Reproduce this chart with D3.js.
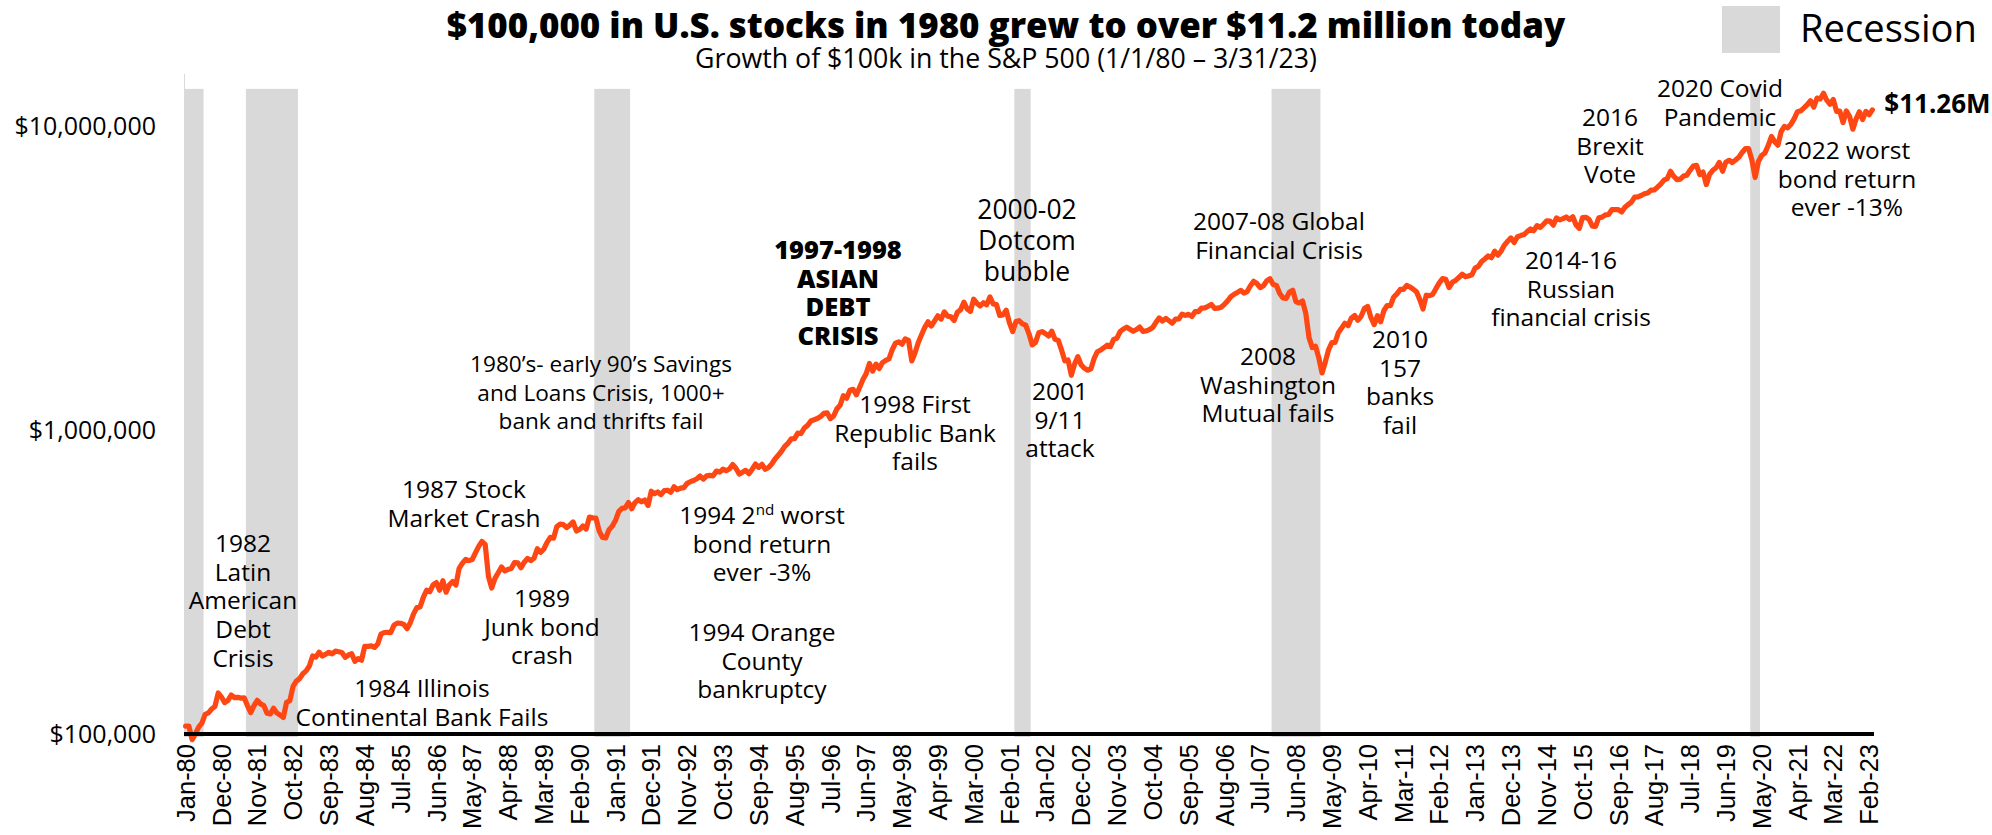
<!DOCTYPE html>
<html><head><meta charset="utf-8">
<script src="https://cdn.jsdelivr.net/npm/d3@7"></script>
<style>body{margin:0;background:#fff;} svg{display:block;}</style>
</head><body>
<svg id="chart" width="1992" height="835"></svg>
<script>
// ---------- DATA ----------
const firstMonth = new Date(1980, 0, 1);
const lastMonthExclusive = new Date(2023, 3, 1);
const categories = d3.timeMonth.range(firstMonth, lastMonthExclusive).map(d3.timeFormat("%b-%y"));

// Growth of $100k in the S&P 500, month-end values (USD)
const portfolioValue = [
106200,106200,95800,100200,105300,108600,116100,117300,120800,123200,136400,132300,
126800,129000,134300,131700,132000,131200,131500,123800,117600,123900,129000,125600,
124000,117000,116400,121600,117300,115500,113300,127000,128600,143400,149200,152100,
157800,161300,167300,180500,178900,185800,180400,183000,185600,183400,187200,186300,
185200,178700,181800,183500,173300,177000,174700,194000,194100,194800,192500,197600,
213000,215600,215700,215500,227900,231500,231200,229200,222000,232300,248200,260300,
261700,281200,296900,293600,309200,314500,296900,318900,292500,309400,316900,308800,
350400,364300,374900,371500,374700,393700,413700,429300,419900,329400,302000,324800,
339000,354200,343400,347700,349800,366100,365100,352100,367100,377800,371700,378300,
406300,395700,405100,426500,442800,440500,480700,489600,487700,476700,485900,497700,
464900,470300,483100,471500,516400,513300,512100,465200,442700,441000,468800,481800,
503100,538400,551800,553500,576400,550200,576400,589200,579500,587900,563500,628000,
617000,624400,612200,630800,632900,623400,649500,635500,642800,645600,666700,675100,
681500,690200,704700,688500,705700,707900,705700,731700,726000,741800,733900,743000,
768900,747500,715000,724900,735600,717500,741800,771500,752400,769900,741200,752000,
771900,801400,825000,849800,882500,903200,933700,935400,974900,972000,1013900,1033700,
1069300,1078600,1089000,1105500,1132800,1137300,1087200,1109600,1171700,1204400,1295000,1269200,
1349000,1358900,1302900,1380900,1463800,1529600,1651400,1558700,1643900,1589400,1662600,1691100,
1710300,1833000,1926700,1946500,1912100,1989800,1968900,1683900,1791000,1937000,2053900,2172200,
2263500,2192600,2280000,2368900,2311900,2440300,2364500,2351900,2287100,2432600,2481300,2627500,
2495900,2448100,2687300,2606900,2552100,2615500,2575200,2733900,2590200,2579600,2375200,2387100,
2472500,2246600,2104700,2268800,2282800,2228200,2206500,2067300,1900300,1936900,2084800,2102700,
2072700,2032400,2109800,1982900,1967500,1827400,1685200,1695600,1511100,1643900,1740000,1637100,
1594400,1569600,1584900,1715700,1805700,1828700,1861000,1896900,1876800,1982800,1999700,2104200,
2143600,2172900,2140200,2107300,2135800,2177300,2105600,2113300,2136100,2169100,2256000,2332500,
2276900,2323400,2282400,2239800,2310300,2313400,2400200,2376800,2396900,2357900,2444500,2445700,
2511600,2516600,2548200,2583200,2507000,2510900,2527500,2585100,2652500,2740200,2789400,2828800,
2872900,2814300,2846700,2974400,3075800,3025500,2932900,2975100,3086200,3136600,3002900,2981400,
2805100,2713400,2703100,2837700,2874100,2632700,2612300,2649800,2414400,2009600,1863100,1881600,
1723800,1537200,1671700,1832200,1933100,1937200,2084800,2158800,2240100,2199900,2330500,2376400,
2292200,2361200,2504000,2545000,2340100,2217400,2373600,2264600,2466700,2561500,2559700,2731100,
2797800,2892300,2894300,2981900,2946800,2898000,2840700,2684000,2495700,2769300,2760000,2788300,
2915300,3039000,3140000,3122200,2931900,3053400,3097600,3164400,3247000,3188500,3203300,3231800,
3400400,3443800,3573500,3644200,3726100,3676300,3864400,3749600,3867600,4046700,4166900,4272100,
4126700,4311300,4348100,4381900,4481100,4573800,4511800,4689100,4623400,4738200,4862100,4849100,
4706800,4973800,4895900,4946200,5006700,4909900,5015600,4710000,4593300,4983000,4994000,4915100,
4673800,4662700,4979000,5001100,5086600,5100000,5291000,5293600,5296200,5202300,5389300,5496800,
5604000,5821600,5828600,5890700,5968200,6006400,6132300,6145200,6273700,6422900,6613400,6688800,
7076500,6812000,6640000,6669100,6824600,6868800,7128000,7355900,7399500,6897300,7032100,6397200,
6911400,7128300,7267400,7564900,7078600,7578300,7689700,7562600,7704300,7874300,8154900,8401000,
8399300,7703700,6749400,7616000,7972100,8130200,8590300,9205100,8856500,8623300,9564000,9933200,
9833000,10100300,10540500,11105200,11177900,11438700,11711300,12063800,11502400,12310600,12221300,12768100,
12114000,11750600,12188000,11131900,11148100,10227000,11174500,10715300,9728200,10519700,11100900,10460600,
11127900,10858000,11260000
];

const tickLabels = ["Jan-80","Dec-80","Nov-81","Oct-82","Sep-83","Aug-84","Jul-85","Jun-86","May-87","Apr-88",
"Mar-89","Feb-90","Jan-91","Dec-91","Nov-92","Oct-93","Sep-94","Aug-95","Jul-96","Jun-97","May-98","Apr-99",
"Mar-00","Feb-01","Jan-02","Dec-02","Nov-03","Oct-04","Sep-05","Aug-06","Jul-07","Jun-08","May-09","Apr-10",
"Mar-11","Feb-12","Jan-13","Dec-13","Nov-14","Oct-15","Sep-16","Aug-17","Jul-18","Jun-19","May-20","Apr-21",
"Mar-22","Feb-23"];

const yTickValues = [100000, 1000000, 10000000];
const yMin = 100000, yMax = 15000000;

const recessionStart = ["Jan-80","Aug-81","Jul-90","Apr-01","Nov-07","Feb-20"];
const recessionEnd   = ["Jun-80","Nov-82","May-91","Aug-01","Jan-09","Apr-20"];
const recessionTop = 13200000;

const finalLabel = "$11.26M";
const titleText = "$100,000 in U.S. stocks in 1980 grew to over $11.2 million today";
const subtitleText = "Growth of $100k in the S&P 500 (1/1/80 \u2013 3/31/23)";
const legendText = "Recession";

// annotation texts
const annotationTexts = [
  ["1982","Latin","American","Debt","Crisis"],
  ["1984 Illinois","Continental Bank Fails"],
  ["1987 Stock","Market Crash"],
  ["1989","Junk bond","crash"],
  ["1980\u2019s- early 90\u2019s Savings","and Loans Crisis, 1000+","bank and thrifts fail"],
  ["1994 2|nd| worst","bond return","ever -3%"],
  ["1994 Orange","County","bankruptcy"],
  ["1997-1998","ASIAN","DEBT","CRISIS"],
  ["1998 First","Republic Bank","fails"],
  ["2000-02","Dotcom","bubble"],
  ["2001","9/11","attack"],
  ["2007-08 Global","Financial Crisis"],
  ["2008","Washington","Mutual fails"],
  ["2010","157","banks","fail"],
  ["2014-16","Russian","financial crisis"],
  ["2016","Brexit","Vote"],
  ["2020 Covid","Pandemic"],
  ["2022 worst","bond return","ever -13%"]
];
// ---------- LAYOUT (pixels) ----------
const annotationLayout = [
  {x:243, y:552}, {x:422, y:697}, {x:464, y:498}, {x:542, y:607},
  {x:601, y:372, size:22.6, lh:28.5}, {x:762, y:524}, {x:762, y:641}, {x:838, y:259, bold:true, size:25.5},
  {x:915, y:413}, {x:1027, y:219, size:26.5, lh:31}, {x:1060, y:400},
  {x:1279, y:230}, {x:1268, y:365}, {x:1400, y:348}, {x:1571, y:269},
  {x:1610, y:126}, {x:1720, y:97}, {x:1847, y:159}
];

const W = 1992, H = 835;
const plot = {left:184, right:1874, top:72, bottom:734};
const FONT = "'Open Sans', 'Noto Sans', sans-serif";
const LINE_COLOR = "#ff4714";
const REC_COLOR = "#d9d9d9";

const svg = d3.select("#chart");

const x = d3.scaleBand().domain(categories).range([plot.left, plot.right]).paddingInner(0).paddingOuter(0);
const y = d3.scaleLog().domain([yMin, yMax]).range([plot.bottom, plot.top]);
const cx = c => x(c) + x.bandwidth() / 2;

function fitWidth(sel, target) {
  const node = sel.node();
  const fs = parseFloat(sel.attr("font-size"));
  const w = node.getComputedTextLength();
  if (w > 0) sel.attr("font-size", (fs * target / w).toFixed(2));
}

// y-axis thin line (visible above bars)
svg.append("line")
  .attr("x1", plot.left + 0.5).attr("x2", plot.left + 0.5)
  .attr("y1", y(yMax) + 2).attr("y2", plot.bottom)
  .attr("stroke", "#d9d9d9").attr("stroke-width", 1);

// recession bars
svg.append("g").selectAll("rect")
  .data(recessionStart.map((s, i) => ({s, e: recessionEnd[i]})))
  .join("rect")
  .attr("x", d => x(d.s))
  .attr("width", d => x(d.e) + x.bandwidth() - x(d.s))
  .attr("y", y(recessionTop))
  .attr("height", y(yMin) - y(recessionTop) + 3)
  .attr("fill", REC_COLOR);

// y axis labels
const yAxis = d3.axisLeft(y).tickValues(yTickValues).tickSize(0).tickPadding(0)
  .tickFormat(d => "$" + d3.format(",")(d));
const gy = svg.append("g").attr("transform", `translate(${156},0)`).call(yAxis);
gy.select(".domain").remove();
gy.selectAll("text").attr("font-family", FONT).attr("font-size", 25).attr("fill", "#000").attr("dy", "0.35em");

// line
const line = d3.line()
  .x((d, i) => cx(categories[i]))
  .y(d => y(d))
  .curve(d3.curveLinear);
svg.append("path")
  .datum(portfolioValue)
  .attr("d", line)
  .attr("fill", "none")
  .attr("stroke", LINE_COLOR)
  .attr("stroke-width", 5.2)
  .attr("stroke-linejoin", "round")
  .attr("stroke-linecap", "round");

// x axis
const xAxis = d3.axisBottom(x).tickValues(tickLabels).tickSize(0).tickPadding(0);
const gx = svg.append("g").attr("transform", `translate(0,${plot.bottom})`).call(xAxis);
gx.select(".domain").attr("stroke", "#000").attr("stroke-width", 4)
  .attr("d", `M${plot.left},0H${plot.right}`);
gx.selectAll("text")
  .attr("font-family", "'Liberation Sans', Arial, sans-serif")
  .attr("font-size", 25.5)
  .attr("fill", "#000")
  .attr("transform", "rotate(-90)")
  .attr("text-anchor", "end")
  .attr("x", -10).attr("y", 0).attr("dy", "0.36em");

// final value label
const lastCat = categories[categories.length - 1];
svg.append("text")
  .attr("x", cx(lastCat) + 12)
  .attr("y", y(portfolioValue[portfolioValue.length - 1]) + 3)
  .attr("font-family", FONT).attr("font-weight", 700).attr("font-size", 26)
  .attr("fill", "#000")
  .text(finalLabel);

// annotations
const gA = svg.append("g").attr("font-family", FONT).attr("fill", "#000").attr("text-anchor", "middle");
annotationTexts.forEach((lines, i) => {
  const L = annotationLayout[i];
  const size = L.size || 24.5, lh = L.lh || 28.7;
  const t = gA.append("text").attr("font-size", size).attr("font-weight", L.bold ? 800 : 400);
  lines.forEach((ln, j) => {
    if (ln.includes("|")) {
      const parts = ln.split("|");
      t.append("tspan").attr("x", L.x).attr("y", L.y + j * lh).text(parts[0]);
      t.append("tspan").attr("font-size", size * 0.62).attr("dy", -size * 0.38).text(parts[1]);
      t.append("tspan").attr("dy", size * 0.38).text(parts[2]);
    } else {
      t.append("tspan").attr("x", L.x).attr("y", L.y + j * lh).text(ln);
    }
  });
});

// title & subtitle
const title = svg.append("text").attr("x", 1006).attr("y", 38).attr("text-anchor", "middle")
  .attr("font-family", FONT).attr("font-weight", 800).attr("font-size", 35).attr("fill", "#000")
  .text(titleText);
fitWidth(title, 1119);
const sub = svg.append("text").attr("x", 1006).attr("y", 68).attr("text-anchor", "middle")
  .attr("font-family", FONT).attr("font-size", 23).attr("fill", "#000")
  .text(subtitleText);
fitWidth(sub, 622);

// legend
svg.append("rect").attr("x", 1722).attr("y", 6).attr("width", 58).attr("height", 47).attr("fill", REC_COLOR);
const lg = svg.append("text").attr("x", 1800).attr("y", 42)
  .attr("font-family", FONT).attr("font-size", 37).attr("fill", "#000").text(legendText);
fitWidth(lg, 177);
</script>
</body></html>
